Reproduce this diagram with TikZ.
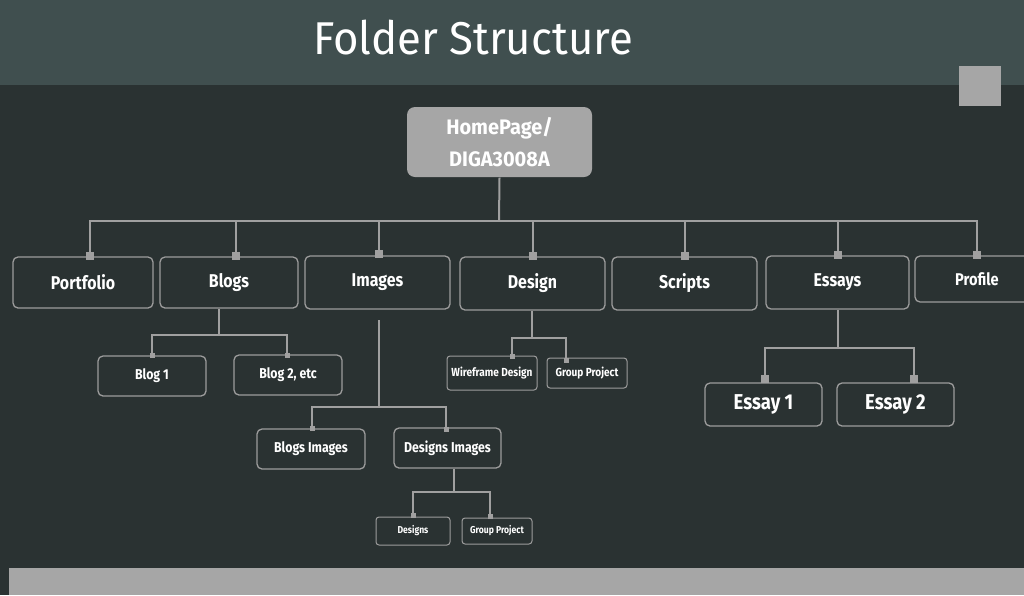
\documentclass[tikz,border=0pt]{standalone}
\usepackage{fontspec}
\setmainfont{Fira Sans}
\newfontfamily\nodefont[FakeStretch=0.86]{Fira Sans}
\newfontfamily\rootfont[FakeStretch=0.95]{Fira Sans}
\newfontfamily\titlefont[FakeStretch=0.95]{Fira Sans}
\definecolor{topband}{HTML}{404F4F}
\definecolor{bgdark}{HTML}{2A3232}
\definecolor{lgray}{HTML}{A6A6A6}
\definecolor{bordergray}{HTML}{9C9C9C}
\definecolor{conngray}{HTML}{A0A0A0}
\tikzset{
  box/.style={draw=bordergray, line width=1.3pt, rounded corners=5pt, text=white, inner sep=0pt, align=center},
  big/.style={box, font=\nodefont\bfseries\fontsize{18.5}{22}\selectfont},
  mid/.style={box, font=\nodefont\bfseries\fontsize{14.3}{17}\selectfont},
  small/.style={box, line width=1pt, rounded corners=3pt, font=\nodefont\bfseries\fontsize{11.7}{14}\selectfont},
  tiny/.style={box, line width=1pt, rounded corners=3pt, font=\nodefont\bfseries\fontsize{10}{12}\selectfont},
  conn/.style={draw=conngray, line width=2pt},
  thinconn/.style={draw=conngray, line width=1.5pt},
  sq/.style={fill=conngray, minimum size=8pt, inner sep=0pt},
  ssq/.style={fill=conngray, minimum size=5pt, inner sep=0pt},
}
\begin{document}
\begin{tikzpicture}[x=1pt,y=-1pt]
\useasboundingbox (0,0) rectangle (1024,595);
\fill[bgdark] (0,0) rectangle (1024,595);
\fill[topband] (0,0) rectangle (1024,85);
\fill[lgray] (959,66) rectangle (1001,106);
\fill[lgray] (9,568) rectangle (1024,595);
\node[text=white, font=\titlefont\fontsize{46}{50}\selectfont] (title) at (473,38) {Folder Structure};

% root
\node[box, draw=none, fill=lgray, minimum width=185pt, minimum height=70pt, rounded corners=8pt,
  font=\rootfont\bfseries\fontsize{21}{32}\selectfont] (hp) at (499.5,142) {HomePage/\\DIGA3008A};

% level 1
\node[big, minimum width=140pt, minimum height=51pt] (portfolio) at (83,282.5) {Portfolio};
\node[big, minimum width=138pt, minimum height=51pt] (blogs) at (229,282.5) {Blogs};
\node[big, minimum width=145pt, minimum height=53pt] (images) at (377.5,282.5) {Images};
\node[big, minimum width=145pt, minimum height=53pt] (design) at (532.5,283.5) {Design};
\node[big, minimum width=145pt, minimum height=53pt] (scripts) at (684.5,283.5) {Scripts};
\node[big, minimum width=143pt, minimum height=53pt] (essays) at (837.5,282.5) {Essays};
\node[box, minimum width=130pt, minimum height=46pt] (profileb) at (980,279) {};
\node[text=white, font=\nodefont\bfseries\fontsize{17}{20}\selectfont] (profile) at (977,279) {Profile};

% bus
\coordinate (bus) at (499,221);
\draw[conn] (hp.south) -- (bus);
\foreach \n/\x/\y in {portfolio/90/256, blogs/236/256, images/379/254, design/533/256, scripts/685/256, essays/838/255, profileb/977/255}{
  \draw[conn] (\x,\y) |- (bus);
  \node[sq] at (\x,\y) {};
}

% blogs children
\node[mid, minimum width=108pt, minimum height=40pt] (blog1) at (152,376) {Blog 1};
\node[mid, minimum width=108pt, minimum height=40pt] (blog2) at (288,375) {Blog 2, etc};
\coordinate (bb) at (219,335);
\draw[thinconn] (blogs.south -| bb) -- (bb);
\draw[thinconn] (blog1.north) |- (bb);
\draw[thinconn] (blog2.north -| 287,0) |- (bb);
\node[ssq] at (blog1.north) {};
\node[ssq] at (287,355) {};

% images children
\node[mid, minimum width=108pt, minimum height=40pt] (bimg) at (311,449) {Blogs Images};
\node[mid, minimum width=107pt, minimum height=40pt] (dimg) at (447.5,448) {Designs Images};
\coordinate (ib) at (379,407);
\draw[thinconn] (379,320) -- (ib);
\draw[thinconn] (312,428) |- (ib);
\draw[thinconn] (446,428) |- (ib);
\node[ssq] at (312,428) {};
\node[ssq] at (446,429) {};

% designs images children
\node[tiny, minimum width=74pt, minimum height=28pt] (des) at (413,531) {Designs};
\node[tiny, minimum width=70pt, minimum height=26pt] (gp2) at (497,531) {Group Project};
\coordinate (db) at (454,492);
\draw[thinconn] (dimg.south -| db) -- (db);
\draw[thinconn] (413,515) |- (db);
\draw[thinconn] (490,515) |- (db);
\node[ssq] at (413,515) {};
\node[ssq] at (490,516) {};

% design children
\node[small, minimum width=90pt, minimum height=34pt] (wire) at (492,373) {Wireframe Design};
\node[small, minimum width=80pt, minimum height=30pt] (gp1) at (587,373) {Group Project};
\coordinate (deb) at (532,338);
\draw[thinconn] (design.south -| deb) -- (deb);
\draw[thinconn] (512,356) |- (deb);
\draw[thinconn] (566,359) |- (deb);
\node[ssq] at (512,356) {};
\node[ssq] at (566,360) {};

% essays children
\node[big, font=\nodefont\bfseries\fontsize{21.5}{25}\selectfont, minimum width=117pt, minimum height=43pt] (e1) at (763.5,404.5) {Essay 1};
\node[big, font=\nodefont\bfseries\fontsize{21.5}{25}\selectfont, minimum width=117pt, minimum height=43pt] (e2) at (895.5,404.5) {Essay 2};
\coordinate (eb) at (838,348);
\draw[conn] (essays.south -| eb) -- (eb);
\draw[conn] (765,381) |- (eb);
\draw[conn] (914,381) |- (eb);
\node[sq] at (765,379) {};
\node[sq] at (914,379) {};
\end{tikzpicture}
\end{document}
